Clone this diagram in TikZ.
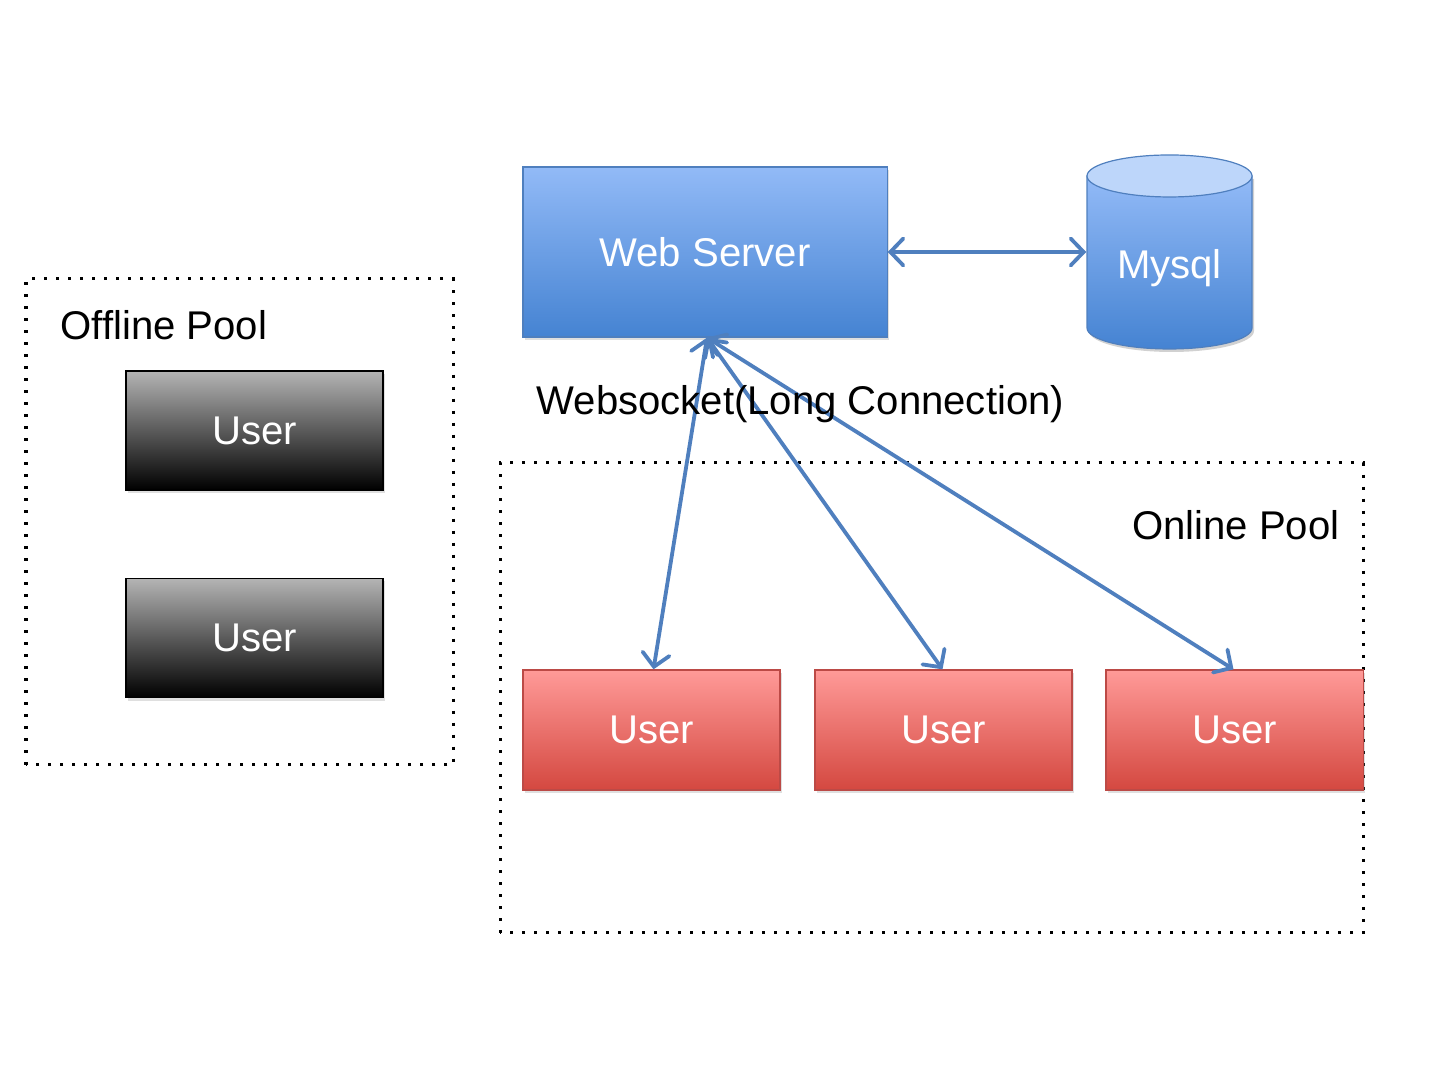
\documentclass[tikz,border=0pt]{standalone}
\usepackage{fontspec}
\setmainfont{Liberation Sans}
\usetikzlibrary{arrows.meta,shadows}
\definecolor{linkblue}{HTML}{4F7FBE}
\definecolor{wstop}{HTML}{92BAF7}
\definecolor{wsbot}{HTML}{4583D2}
\definecolor{redtop}{HTML}{FF9A98}
\definecolor{redbot}{HTML}{D44840}
\definecolor{redborder}{HTML}{BC4A46}
\definecolor{graytop}{HTML}{B4B4B4}
\definecolor{cyltop}{HTML}{BDD6FA}
\tikzset{
  x=0.01cm,y=0.01cm,
  lbl/.style={font=\fontsize{11.4pt}{13pt}\selectfont, inner sep=0pt},
  boxtext/.style={font=\fontsize{11.4pt}{13pt}\selectfont, text=white},
  pool/.style={draw=black, line width=0.03cm, dash pattern=on 0.03cm off 0.09cm},
  offuser/.style={boxtext, draw=black, line width=0.012cm, top color=graytop, bottom color=black,
    minimum width=2.57cm, minimum height=1.19cm, inner sep=0pt,
    drop shadow={opacity=0.25, shadow xshift=0.02cm, shadow yshift=-0.03cm}},
  onuser/.style={boxtext, draw=redborder, line width=0.012cm, top color=redtop, bottom color=redbot,
    minimum width=2.57cm, minimum height=1.20cm, inner sep=0pt,
    drop shadow={opacity=0.25, shadow xshift=0.02cm, shadow yshift=-0.03cm}},
  server/.style={boxtext, draw=linkblue, line width=0.012cm, top color=wstop, bottom color=wsbot,
    minimum width=3.64cm, minimum height=1.70cm, inner sep=0pt,
    drop shadow={opacity=0.25, shadow xshift=0.02cm, shadow yshift=-0.03cm}},
  link/.style={draw=linkblue, line width=0.038cm, line cap=round,
    {Straight Barb[length=0.13cm,width=0.27cm,line cap=round]}-{Straight Barb[length=0.13cm,width=0.27cm,line cap=round]}},
}
\begin{document}
\begin{tikzpicture}
\useasboundingbox (0,0) rectangle (1440,1080);
% pools
\draw[pool] (26,315) rectangle (453,801);
\draw[pool] (500,147) rectangle (1363,617);
\node[lbl, anchor=base west] (offlbl) at (60,740) {Offline Pool};
\node[lbl, anchor=base east] (onlbl) at (1340,540) {Online Pool};
% offline users
\node[offuser] (off1) at (254.5,649.5) {\raisebox{-0.025cm}{User}};
\node[offuser] (off2) at (254.5,442) {\raisebox{-0.025cm}{User}};
% web server
\node[server] (ws) at (705,828) {Web Server};
% mysql cylinder
\fill[black, opacity=0.18] (1089,901) -- (1089,749) arc[start angle=180, end angle=360, x radius=82.5, y radius=21] -- (1254,901) -- cycle;
\shade[top color=wstop, bottom color=wsbot, draw=linkblue, line width=0.012cm]
  (1087,904) -- (1087,752) arc[start angle=180, end angle=360, x radius=82.5, y radius=21] -- (1252,904) -- cycle;
\filldraw[fill=cyltop, draw=linkblue, line width=0.012cm] (1169.5,904) ellipse[x radius=82.5, y radius=21];
\node[inner sep=0pt, minimum width=1.65cm, minimum height=1.94cm] (db) at (1169.5,828) {};
\node[boxtext, anchor=base, inner sep=0pt] (dblbl) at (1169.5,801) {Mysql};
% online users
\node[onuser] (on1) at (651.5,350) {\raisebox{-0.025cm}{User}};
\node[onuser] (on2) at (943.5,350) {\raisebox{-0.025cm}{User}};
\node[onuser] (on3) at (1234.5,350) {\raisebox{-0.025cm}{User}};
% connections
\draw[link] (ws.east) -- (db.west);
\draw[link] ([xshift=0.02cm]ws.south) -- ([xshift=0.02cm]on1.north);
\draw[link] ([xshift=0.02cm]ws.south) -- ([xshift=-0.01cm]on2.north);
\draw[link] ([xshift=0.02cm]ws.south) -- ([xshift=-0.01cm]on3.north);
\node[lbl, anchor=base west] (wslbl) at (536,665) {Websocket(Long Connection)};
\end{tikzpicture}
\end{document}
